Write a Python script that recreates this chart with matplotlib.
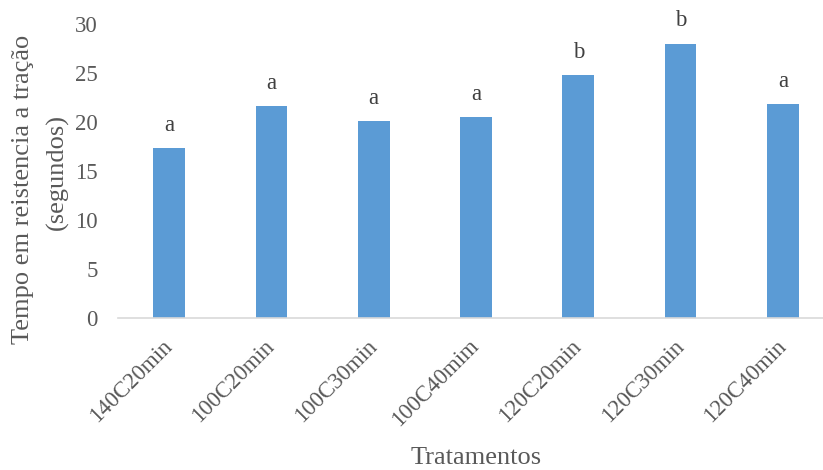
import matplotlib.pyplot as plt

tratamentos = ["140C20min", "100C20min", "100C30min", "100C40mim",
               "120C20min", "120C30min", "120C40min"]
tempo = [17.3, 21.6, 20.1, 20.5, 24.8, 28.0, 21.8]
letras = ["a", "a", "a", "a", "b", "b", "a"]
y_ticks = [0, 5, 10, 15, 20, 25, 30]

cor_barra = "#5b9bd5"
cor_texto = "#595959"

plt.rcParams["font.family"] = ["Liberation Serif", "DejaVu Serif"]

fig = plt.figure(figsize=(8.23, 4.70), dpi=100)
ax = fig.add_axes([118 / 823, (470 - 318) / 470, (834 - 118) / 823, (318 - 24) / 470])

x = range(len(tratamentos))
bars = ax.bar(x, tempo, width=0.31, color=cor_barra, zorder=2)

# letras de significancia acima de cada barra
for bar, letra in zip(bars, letras):
    ax.annotate(letra, (bar.get_x() + bar.get_width() / 2, bar.get_height()),
                xytext=(0, 12.5), textcoords="offset points",
                ha="center", va="baseline", fontsize=16.5, color="#404040",
                annotation_clip=False)

ax.set_xlim(-0.5, len(tratamentos) - 0.5)
ax.set_ylim(0, 30)
ax.set_yticks(y_ticks)
ax.set_xticks(list(x))
ax.set_xticklabels(tratamentos, rotation=45, ha="right", va="center",
                   rotation_mode="anchor")

ax.tick_params(axis="both", length=0, labelsize=16.5, colors=cor_texto)
ax.tick_params(axis="y", pad=14.5)
ax.tick_params(axis="x", pad=18)

for side in ["top", "right", "left"]:
    ax.spines[side].set_visible(False)
ax.spines["bottom"].set_color("#d9d9d9")
ax.spines["bottom"].set_linewidth(1.2)

fig.text(23 / 823, 1 - 189 / 470, "Tempo em reistencia a tração",
         rotation=90, ha="center", va="center", fontsize=19, color=cor_texto)
fig.text(57 / 823, 1 - 172 / 470, "(segundos)",
         rotation=90, ha="center", va="center", fontsize=19, color=cor_texto)
fig.text(476 / 823, 1 - 464 / 470, "Tratamentos", ha="center", va="baseline",
         fontsize=19, color=cor_texto)

fig.savefig("out.png", dpi=100)
